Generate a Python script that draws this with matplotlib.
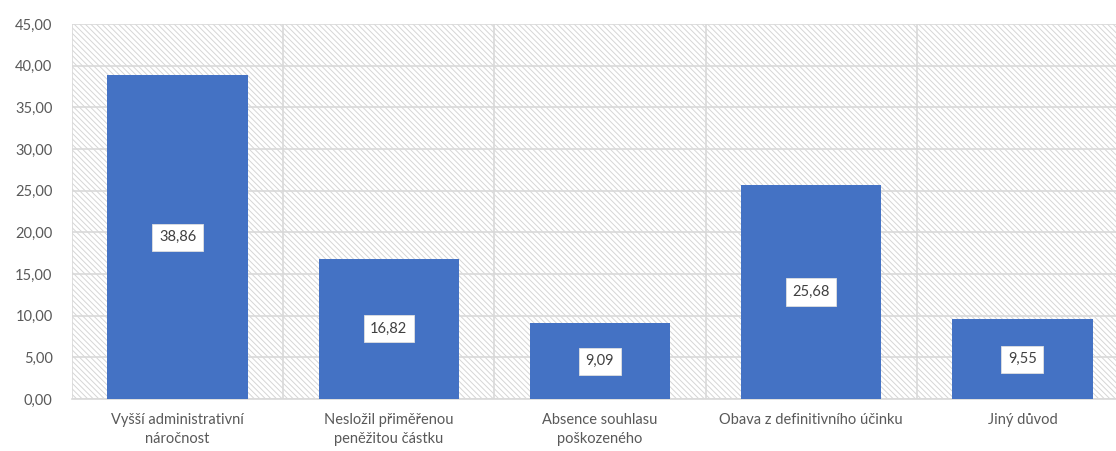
import matplotlib
import matplotlib.pyplot as plt
from matplotlib.patches import Rectangle
from matplotlib.ticker import FuncFormatter, MultipleLocator

matplotlib.use("Agg")

# Duvody, proc nebylo vyuzito narovnani (podil v %)
kategorie = ["Vyšší administrativní\nnáročnost",
             "Nesložil přiměřenou\npeněžitou částku",
             "Absence souhlasu\npoškozeného",
             "Obava z definitivního účinku",
             "Jiný důvod"]
podil = [38.86, 16.82, 9.09, 25.68, 9.55]

MODRA = "#4472C4"
SEDA_TEXT = "#595959"
SEDA_MRIZKA = "#d9d9d9"

plt.rcParams["font.family"] = ["Lato", "DejaVu Sans"]
plt.rcParams["hatch.linewidth"] = 0.7
plt.rcParams["hatch.color"] = "#d6d6d6"

fig = plt.figure(figsize=(11.16, 4.51), dpi=100)
# plocha grafu je vpravo oriznuta
ax = fig.add_axes([72 / 1116, 1 - 399 / 451, 1056 / 1116, 375 / 451])

# husté srafovane pozadi
ax.add_patch(Rectangle((0, 0), 1, 1, transform=ax.transAxes,
                       facecolor="white", edgecolor="#d6d6d6",
                       hatch="\\" * 6, linewidth=0, zorder=0))

x = range(len(kategorie))
ax.bar(x, podil, width=0.665, color=MODRA, zorder=3)

for xi, v in zip(x, podil):
    ax.text(xi, v / 2, f"{v:.2f}".replace(".", ","), ha="center", va="center",
            fontsize=10.5, color="#404040", zorder=4,
            bbox=dict(boxstyle="square,pad=0.45", facecolor="white",
                      edgecolor="#e0e0e0", linewidth=0.6))

ax.set_xlim(-0.5, len(kategorie) - 0.5)
ax.set_ylim(0, 45)
ax.yaxis.set_major_locator(MultipleLocator(5))
ax.yaxis.set_major_formatter(FuncFormatter(lambda v, _: f"{v:.2f}".replace(".", ",")))

# svisle cary mezi kategoriemi
ax.set_xticks([i + 0.5 for i in range(-1, len(kategorie))], minor=True)
ax.grid(True, axis="y", color=SEDA_MRIZKA, linewidth=1.2, zorder=1)
ax.grid(True, axis="x", which="minor", color=SEDA_MRIZKA, linewidth=1.2, zorder=1)
ax.set_axisbelow(True)

ax.set_xticks(list(x))
ax.set_xticklabels(kategorie, fontsize=10.5, color=SEDA_TEXT, linespacing=1.45)
ax.tick_params(axis="y", labelsize=10.5, labelcolor=SEDA_TEXT, length=0, pad=14)
ax.tick_params(axis="x", which="both", length=0, pad=10)

for s in ["top", "right", "left"]:
    ax.spines[s].set_visible(False)
ax.spines["bottom"].set_color(SEDA_MRIZKA)
ax.spines["bottom"].set_linewidth(1.2)

fig.savefig("out.png", dpi=100)
